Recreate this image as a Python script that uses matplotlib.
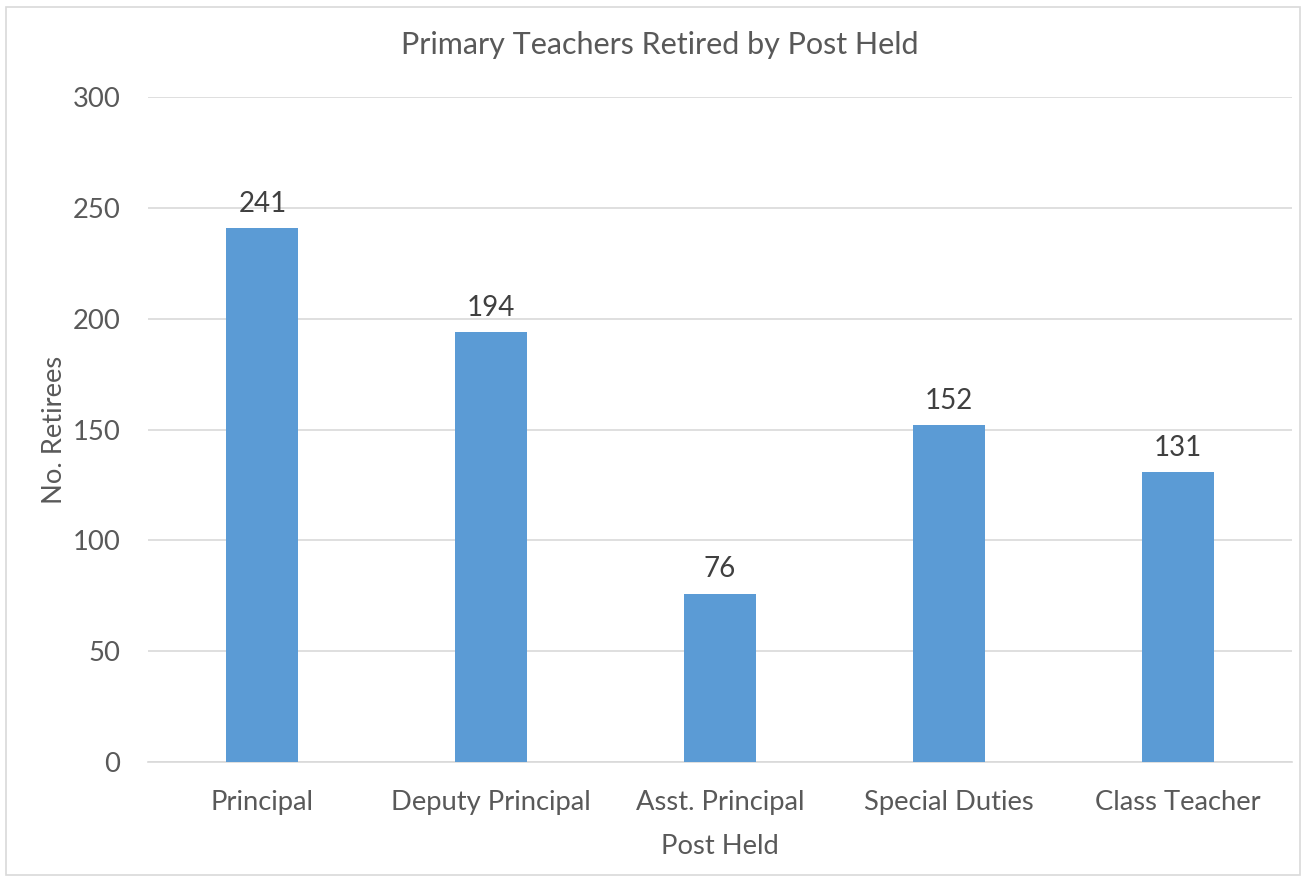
import matplotlib
matplotlib.use('Agg')
from matplotlib import pyplot as plt
from matplotlib.patches import Rectangle
import numpy as np

categories = ['Principal', 'Deputy Principal', 'Asst. Principal', 'Special Duties', 'Class Teacher']
retirees = [241, 194, 76, 152, 131]
y_ticks = [0, 50, 100, 150, 200, 250, 300]

plt.rcParams['font.family'] = ['Lato', 'DejaVu Sans']
text_col = '#595959'
grid_col = '#D9D9D9'
bar_col = '#5B9BD5'

fig = plt.figure(figsize=(13.07, 8.81), dpi=100)
ax = fig.add_axes([148/1307, 1 - 762/881, 1144/1307, 665/881])

x = np.arange(len(categories))
bars = ax.bar(x, retirees, width=0.315, color=bar_col, zorder=3)
for b, v in zip(bars, retirees):
    ax.annotate(str(v), (b.get_x() + b.get_width()/2, v), xytext=(0, 8),
                textcoords='offset points', ha='center', va='bottom',
                fontsize=20, color='#404040')

ax.set_xlim(-0.5, len(categories) - 0.5)
ax.set_ylim(0, 300)
ax.set_yticks(y_ticks)
ax.set_xticks(x)
ax.set_xticklabels(categories)
ax.tick_params(axis='both', length=0, labelsize=19.7, labelcolor=text_col)
ax.tick_params(axis='x', pad=20)
ax.tick_params(axis='y', pad=20)
ax.yaxis.grid(True, color=grid_col, linewidth=1.2, zorder=0)
for s in ['top', 'right', 'left']:
    ax.spines[s].set_visible(False)
ax.spines['bottom'].set_color(grid_col)
ax.spines['bottom'].set_linewidth(1.2)

ax.set_xlabel('Post Held', fontsize=19.7, color=text_col, labelpad=14)
ax.set_ylabel('No. Retirees', fontsize=19.7, color=text_col, labelpad=4)
fig.text(660/1307, 1 - 45/881, 'Primary Teachers Retired by Post Held',
         ha='center', va='center', fontsize=22, color=text_col)

fig.patches.append(Rectangle((6/1307, 6/881), 1294/1307, 868/881,
                             transform=fig.transFigure, fill=False,
                             edgecolor=grid_col, linewidth=1.2))

fig.savefig('out.png', dpi=100)
